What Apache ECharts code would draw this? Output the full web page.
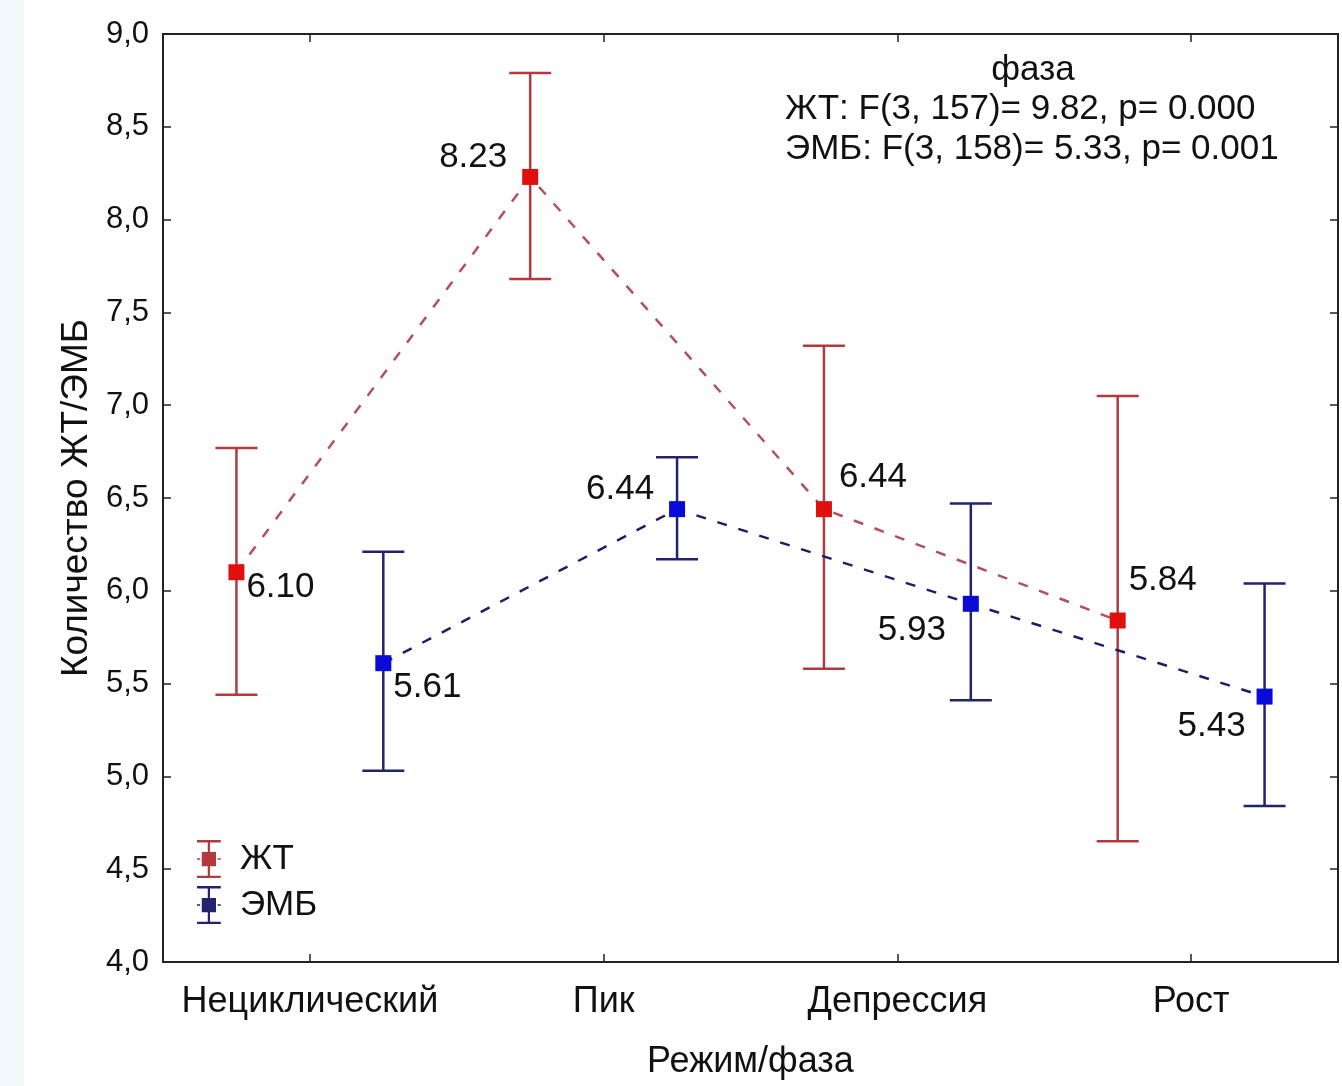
<!DOCTYPE html>
<html>
<head>
<meta charset="utf-8">
<script src="https://cdn.jsdelivr.net/npm/echarts@6/dist/echarts.min.js"></script>
<style>
html, body { margin: 0; padding: 0; background: #fff; }
#chart { width: 1342px; height: 1086px; }
</style>
</head>
<body>
<div id="chart"></div>
<script>
// категории и значения (средние и границы доверительных интервалов)
const categories = ['Нециклический', 'Пик', 'Депрессия', 'Рост'];
const jtMean = [6.10, 8.23, 6.44, 5.84];
const jtLow = [5.44, 7.68, 5.58, 4.65];
const jtHigh = [6.77, 8.79, 7.32, 7.05];
const embMean = [5.61, 6.44, 5.93, 5.43];
const embLow = [5.03, 6.17, 5.41, 4.84];
const embHigh = [6.21, 6.72, 6.47, 6.04];
const statLines = ['фаза', 'ЖТ: F(3, 157)= 9.82, p= 0.000', 'ЭМБ: F(3, 158)= 5.33, p= 0.001'];

// смещение подписей относительно точки, px
const jtLabelOffset = [[44, 15], [-57, -20], [49, -32], [45, -40]];
const embLabelOffset = [[44, 24], [-57, -20], [-59, 27], [-53, 30]];

const FONT = '"Liberation Sans", Arial, sans-serif';
const JT_BAR = '#b23a3e', JT_MARK = '#e01010', JT_LINE = '#b4505a';
const EMB_BAR = '#22226f', EMB_MARK = '#0a0ad8', EMB_LINE = '#1e1e66';
const SHIFT = 0.25;

function barData(low, high, dx) {
  return low.map((v, i) => [i + dx, v, high[i]]);
}
function meanData(mean, dx, offsets) {
  return mean.map((v, i) => ({ value: [i + dx, v], label: { offset: offsets[i] } }));
}
// усы доверительного интервала
function renderBars(color) {
  return function (params, api) {
    const x = api.value(0);
    const lo = api.coord([x, api.value(1)]);
    const hi = api.coord([x, api.value(2)]);
    const half = 21;
    const style = { stroke: color, lineWidth: 2.5 };
    return {
      type: 'group',
      children: [
        { type: 'line', shape: { x1: hi[0], y1: hi[1], x2: lo[0], y2: lo[1] }, style: style },
        { type: 'line', shape: { x1: hi[0] - half, y1: hi[1], x2: hi[0] + half, y2: hi[1] }, style: style },
        { type: 'line', shape: { x1: lo[0] - half, y1: lo[1], x2: lo[0] + half, y2: lo[1] }, style: style }
      ]
    };
  };
}

const legendIcon = 'path://M0,0H30V3H0Z M13.6,0H16.4V48H13.6Z M0,45H30V48H0Z M6,15H24V33H6Z M0,23H4V25H0Z M26,23H30V25H26Z';
const tickStyle = { show: true, inside: true, length: 8, lineStyle: { color: '#222', width: 1.5 } };
const lineStyleAxis = { show: true, onZero: false, lineStyle: { color: '#222', width: 2 } };

const chart = echarts.init(document.getElementById('chart'));
chart.setOption({
  animation: false,
  backgroundColor: '#fff',
  grid: { left: 163, top: 34, right: 4, bottom: 124, containLabel: false },
  xAxis: [
    {
      type: 'category', position: 'bottom', data: categories, boundaryGap: true,
      axisLine: lineStyleAxis,
      axisTick: Object.assign({ alignWithLabel: true }, tickStyle),
      axisLabel: { interval: 0, fontSize: 36, color: '#111', fontFamily: FONT, margin: 22 },
      name: 'Режим/фаза', nameLocation: 'middle', nameGap: 82,
      nameTextStyle: { fontSize: 36, color: '#111', fontFamily: FONT },
      splitLine: { show: false }
    },
    { type: 'value', min: -0.5, max: 3.5, show: false },
    {
      type: 'category', position: 'top', data: categories, boundaryGap: true,
      axisLine: lineStyleAxis,
      axisTick: Object.assign({ alignWithLabel: true, interval: 0 }, tickStyle),
      axisLabel: { show: false }, splitLine: { show: false }
    }
  ],
  yAxis: [
    {
      type: 'value', min: 4, max: 9, interval: 0.5, position: 'left',
      axisLine: lineStyleAxis, axisTick: tickStyle, splitLine: { show: false },
      axisLabel: {
        fontSize: 31, color: '#111', fontFamily: FONT, margin: 14,
        formatter: v => v.toFixed(1).replace('.', ',')
      },
      name: 'Количество ЖТ/ЭМБ', nameLocation: 'middle', nameGap: 68, nameRotate: 90,
      nameTextStyle: { fontSize: 37, color: '#111', fontFamily: FONT }
    },
    {
      type: 'value', min: 4, max: 9, interval: 0.5, position: 'right',
      axisLine: lineStyleAxis, axisTick: tickStyle, splitLine: { show: false },
      axisLabel: { show: false }
    }
  ],
  legend: {
    orient: 'vertical', left: 192, top: 835, itemWidth: 28, itemHeight: 38, itemGap: 8,
    textStyle: { fontSize: 35, color: '#111', fontFamily: FONT, padding: [0, 0, 0, 12] },
    data: [
      { name: 'ЖТ', icon: legendIcon, itemStyle: { color: JT_BAR } },
      { name: 'ЭМБ', icon: legendIcon, itemStyle: { color: EMB_BAR } }
    ]
  },
  graphic: [
    { type: 'rect', shape: { x: 0, y: 0, width: 24, height: 1086 }, style: { fill: '#f2f8fc' }, z: -10 },
    { type: 'text', x: 1033, y: 70, style: { text: statLines[0], font: '35px ' + FONT, fill: '#111', textAlign: 'center', textVerticalAlign: 'middle' } },
    { type: 'text', x: 785, y: 109, style: { text: statLines[1], font: '35px ' + FONT, fill: '#111', textAlign: 'left', textVerticalAlign: 'middle' } },
    { type: 'text', x: 785, y: 149, style: { text: statLines[2], font: '35px ' + FONT, fill: '#111', textAlign: 'left', textVerticalAlign: 'middle' } }
  ],
  series: [
    {
      name: 'ЖТ', type: 'custom', xAxisIndex: 1, yAxisIndex: 0,
      renderItem: renderBars(JT_BAR), encode: { x: 0, y: [1, 2] },
      data: barData(jtLow, jtHigh, -SHIFT), z: 2
    },
    {
      name: 'ЭМБ', type: 'custom', xAxisIndex: 1, yAxisIndex: 0,
      renderItem: renderBars(EMB_BAR), encode: { x: 0, y: [1, 2] },
      data: barData(embLow, embHigh, SHIFT), z: 2
    },
    {
      name: 'ЖТ', type: 'line', xAxisIndex: 1, yAxisIndex: 0,
      data: meanData(jtMean, -SHIFT, jtLabelOffset),
      symbol: 'rect', symbolSize: 16,
      itemStyle: { color: JT_MARK },
      lineStyle: { color: JT_LINE, width: 2.5, type: [10, 12] },
      label: {
        show: true, position: 'inside', fontSize: 35, color: '#111', fontFamily: FONT,
        formatter: p => p.value[1].toFixed(2)
      },
      z: 3
    },
    {
      name: 'ЭМБ', type: 'line', xAxisIndex: 1, yAxisIndex: 0,
      data: meanData(embMean, SHIFT, embLabelOffset),
      symbol: 'rect', symbolSize: 16,
      itemStyle: { color: EMB_MARK },
      lineStyle: { color: EMB_LINE, width: 2.5, type: [10, 12] },
      label: {
        show: true, position: 'inside', fontSize: 35, color: '#111', fontFamily: FONT,
        formatter: p => p.value[1].toFixed(2)
      },
      z: 3
    }
  ]
});
</script>
</body>
</html>
